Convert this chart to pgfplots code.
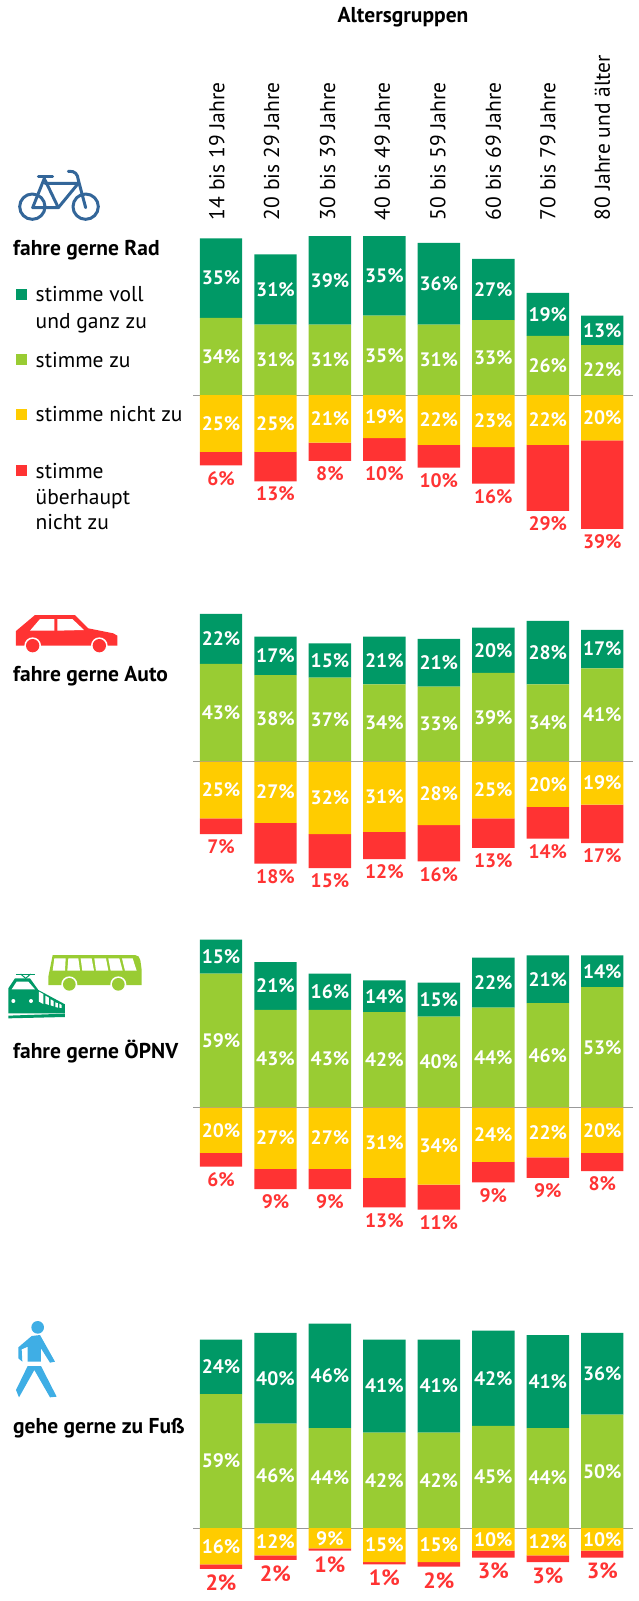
\documentclass[border=0pt]{standalone}
\usepackage{pgfplots}
\pgfplotsset{compat=1.18}
\usepackage{pgfplotstable}
\usepackage{fontspec}
\setmainfont{PT Sans}
\definecolor{dg}{HTML}{009966}
\definecolor{lg}{HTML}{99CC33}
\definecolor{ye}{HTML}{FFCC00}
\definecolor{re}{HTML}{FF3333}
\definecolor{bikeblue}{HTML}{336699}
\definecolor{walkblue}{HTML}{3FAEE5}
\definecolor{ruleg}{HTML}{999999}
\pgfplotstableread{
x vz z nz unz
0 35 34 25 6
1 31 31 25 13
2 39 31 21 8
3 35 35 19 10
4 36 31 22 10
5 27 33 23 16
6 19 26 22 29
7 13 22 20 39
}\tabrad
\pgfplotstableread{
x vz z nz unz
0 22 43 25 7
1 17 38 27 18
2 15 37 32 15
3 21 34 31 12
4 21 33 28 16
5 20 39 25 13
6 28 34 20 14
7 17 41 19 17
}\tabauto
\pgfplotstableread{
x vz z nz unz
0 15 59 20 6
1 21 43 27 9
2 16 43 27 9
3 14 42 31 13
4 15 40 34 11
5 22 44 24 9
6 21 46 22 9
7 14 53 20 8
}\tabopnv
\pgfplotstableread{
x vz z nz unz
0 24 59 16 2
1 40 46 12 2
2 46 44 9 1
3 41 42 15 1
4 41 42 15 2
5 42 45 10 3
6 41 44 12 3
7 36 50 10 3
}\tabfuss
\tikzset{getseg/.style={/utils/exec={\pgfmathfloattofixed{\pgfplotspointmeta}\let\segh=\pgfmathresult}}}
\pgfplotsset{
  /pgf/number format/assume math mode=true,
  panel/.style={
    anchor=origin, scale only axis, x=54.47pt, y=2.27pt,
    xmin=-0.51, xmax=7.56, ymin=-65, ymax=95,
    clip=false, ybar stacked, bar width=42.4pt,
    axis line style={draw=none}, major tick length=0pt,
    ytick=\empty, xtick=\empty,
  },
  lab/.style={
    nodes near coords={\pgfmathprintnumber{\pgfplotspointmeta}\%},
    point meta=explicit,
  },
  seg/.style={draw=none, fill=#1},
  whitelab/.style={every node near coord/.style={font=\fontsize{19.5}{19.5}\selectfont\bfseries, text=white, anchor=center, inner sep=0pt}},
  reddown/.style={every node near coord/.style={getseg, font=\fontsize{#1}{#1}\selectfont\bfseries, text=re, anchor=north, inner sep=0pt, yshift=-\segh*1.135pt-5.5pt}},
}
\newcommand{\posplots}[1]{%
  \addplot[seg=lg, lab, whitelab] table[x=x,y=z,meta=z]{#1};
  \addplot[seg=dg, lab, whitelab] table[x=x,y=vz,meta=vz]{#1};
}
\newcommand{\negplots}[2]{%
  \addplot[seg=ye, lab, whitelab] table[x=x,y expr=-\thisrow{nz},meta=nz]{#1};
  \addplot[seg=re, lab, reddown=#2] table[x=x,y expr=-\thisrow{unz},meta=unz]{#1};
  \draw[ruleg, line width=1pt] (axis cs:-0.51,0) -- (axis cs:7.56,0);
}
\begin{document}
\begin{tikzpicture}
\path[use as bounding box] (0,0) rectangle (638pt,-1601pt);
% panel 1
\begin{axis}[panel, at={(221pt,-395pt)}, ymax=77,
  xtick={-0.075,0.93,1.955,2.96,3.98,5,6,7},
  xticklabels={14 bis 19 Jahre,20 bis 29 Jahre,30 bis 39 Jahre,40 bis 49 Jahre,50 bis 59 Jahre,60 bis 69 Jahre,70 bis 79 Jahre,80 Jahre und älter},
  xticklabel pos=upper,
  xticklabel style={rotate=90, anchor=west, font=\fontsize{21.5}{21.5}\selectfont, inner sep=0pt},
]
\posplots{\tabrad}
\end{axis}
\begin{axis}[panel, at={(221pt,-395pt)}]
\negplots{\tabrad}{19.5}
\end{axis}
% panel 2
\begin{axis}[panel, at={(221pt,-761.5pt)}]
\posplots{\tabauto}
\end{axis}
\begin{axis}[panel, at={(221pt,-761.5pt)}]
\negplots{\tabauto}{19.5}
\end{axis}
% panel 3
\begin{axis}[panel, at={(221pt,-1107.5pt)}]
\posplots{\tabopnv}
\end{axis}
\begin{axis}[panel, at={(221pt,-1107.5pt)}]
\negplots{\tabopnv}{19.5}
\end{axis}
% panel 4
\begin{axis}[panel, at={(221pt,-1528pt)}]
\posplots{\tabfuss}
\end{axis}
\begin{axis}[panel, at={(221pt,-1528pt)}]
\negplots{\tabfuss}{22}
\end{axis}
\begin{scope}[x=1pt,y=-1pt]
\node[font=\fontsize{21.5}{21.5}\selectfont\bfseries, inner sep=0pt] at (403,17.5) {Altersgruppen};
\tikzset{ttl/.style={anchor=west, font=\fontsize{21.5}{21.5}\selectfont\bfseries, inner sep=0pt},
 leg/.style={anchor=west, font=\fontsize{21.5}{21.5}\selectfont, inner sep=0pt}}
\node[ttl] at (13,250) {fahre gerne Rad};
\node[ttl] at (13,676) {fahre gerne Auto};
\node[ttl] at (13,1052) {fahre gerne ÖPNV};
\node[ttl] at (13,1428) {gehe gerne zu Fuß};
% legend
\fill[dg] (16,289) rectangle (27,300);
\fill[lg] (16,354) rectangle (27,365);
\fill[ye] (16,409) rectangle (27,420);
\fill[re] (16,465) rectangle (27,476);
\node[leg] at (35.5,294.5) {stimme voll};
\node[leg] at (35.5,323.5) {und ganz zu};
\node[leg] at (35.5,360) {stimme zu};
\node[leg] at (35.5,414.5) {stimme nicht zu};
\node[leg] at (35.5,471) {stimme};
\node[leg] at (35.5,499) {überhaupt};
\node[leg] at (35.5,522) {nicht zu};
\end{scope}
% bike icon
\begin{scope}[shift={(10pt,-160pt)},x=0.3333pt,y=-0.3333pt]
\begin{scope}[draw=bikeblue,line width=3pt,line join=round,line cap=round]
\draw (67,140) circle[radius=38*0.3333pt];
\draw (227,140) circle[radius=38*0.3333pt];
\draw (68,143) -- (145,143) -- (205,70) -- (105,70);
\draw (85,48) -- (128,48);
\draw (105,50) -- (68,143);
\draw (105,60) -- (145,143);
\draw (175,34) .. controls (195,32) and (203,42) .. (205,60) -- (227,143);
\end{scope}
\end{scope}
% car icon
\begin{scope}[shift={(10pt,-605pt)},x=0.3333pt,y=-0.3333pt]
\fill[re] (18,78) -- (75,30) -- (195,30) -- (235,70) -- (310,85) -- (322,92) -- (322,122) -- (18,122) -- cycle;
\fill[white] (60,77) -- (90,42) -- (133,42) -- (133,77) -- cycle;
\fill[white] (142,42) -- (187,42) -- (222,75) -- (142,77) -- cycle;
\fill[white] (68,122) circle[radius=25*0.3333pt];
\fill[white] (268,122) circle[radius=25*0.3333pt];
\fill[re] (68,122) circle[radius=20*0.3333pt];
\fill[re] (268,122) circle[radius=20*0.3333pt];
\end{scope}
% bus icon
\begin{scope}[shift={(0pt,-945pt)},x=0.3333pt,y=-0.3333pt]
\fill[lg] (158,30) -- (405,30) to[out=0,in=100] (425,75) -- (425,120) -- (145,120) -- (145,95) -- cycle;
\fill[white] (163,40) -- (197,40) -- (195,77) -- (158,77) -- cycle;
\fill[white] (205,40) -- (235,40) -- (240,77) -- (202,77) -- cycle;
\fill[white] (242,40) -- (275,40) -- (282,77) -- (247,77) -- cycle;
\fill[white] (283,40) -- (318,40) -- (325,77) -- (288,77) -- cycle;
\fill[white] (325,40) -- (358,40) -- (368,77) -- (332,77) -- cycle;
\fill[white] (366,40) -- (398,40) -- (410,77) -- (375,77) -- cycle;
\fill[white] (208,118) circle[radius=24*0.3333pt];
\fill[white] (355,118) circle[radius=24*0.3333pt];
\fill[lg] (208,118) circle[radius=19*0.3333pt];
\fill[lg] (355,118) circle[radius=19*0.3333pt];
% train
\draw[dg,line width=1pt] (48,87) -- (105,87);
\draw[dg,line width=1pt] (62,87) -- (77,100) -- (92,87);
\fill[dg] (25,200) -- (25,130) -- (45,100) -- (90,100) -- (115,135) -- (195,178) -- (195,205) -- (25,205) -- cycle;
\fill[white] (35,133) -- (50,110) -- (85,110) -- (105,133) -- cycle;
\fill[white] (40,168) circle[radius=6*0.3333pt];
\fill[white] (93,168) circle[radius=6*0.3333pt];
\fill[white] (117,140) -- (130,147) -- (130,177) -- (117,170) -- cycle;
\fill[white] (136,152) -- (147,158) -- (147,180) -- (136,176) -- cycle;
\fill[white] (152,163) -- (161,168) -- (161,184) -- (152,181) -- cycle;
\fill[white] (166,172) -- (174,175) -- (174,188) -- (166,186) -- cycle;
\fill[white] (178,176) -- (185,180) -- (185,189) -- (178,188) -- cycle;
\fill[dg] (25,212) -- (195,206) -- (195,216) -- (25,220) -- cycle;
\end{scope}
% walker icon
\begin{scope}[shift={(5pt,-1310pt)},x=0.3333pt,y=-0.3333pt]
\fill[walkblue] (98,52) circle[radius=19*0.3333pt];
\fill[walkblue] (80,78) -- (105,75) -- (150,155) -- (135,158) -- (108,115) -- (108,155) -- (68,155) -- (68,110) -- (50,118) -- (52,155) -- (40,145) -- (40,112) -- cycle;
\fill[walkblue] (68,168) -- (108,168) -- (155,260) -- (135,262) -- (88,180) -- (42,262) -- (33,240) -- cycle;
\end{scope}
\end{tikzpicture}
\end{document}
